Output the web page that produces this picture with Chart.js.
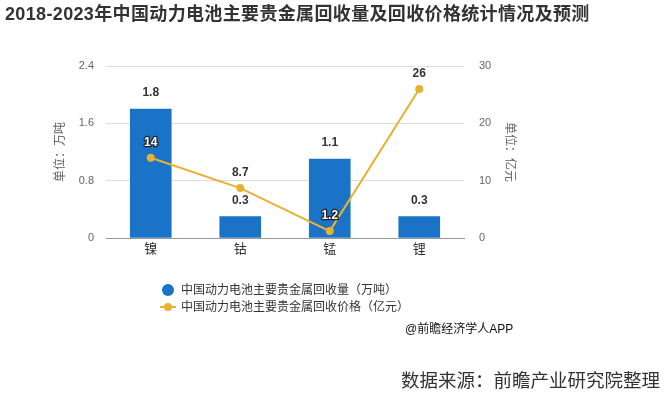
<!DOCTYPE html>
<html>
<head>
<meta charset="utf-8">
<script src="https://cdn.jsdelivr.net/npm/chart.js@4.4.1/dist/chart.umd.min.js"></script>
<style>
  html, body { margin: 0; padding: 0; background: #fff; }
  body { width: 664px; height: 393px; position: relative; overflow: hidden;
         font-family: "Liberation Sans", "Noto Sans CJK SC", sans-serif; }
  #wrap { position: absolute; left: 0; top: 0; width: 664px; height: 393px; }
  .txt { position: absolute; white-space: nowrap; color: #333; }
  #title { left: 5px; top: -1px; font-size: 18px; font-weight: bold; color: #333; letter-spacing: 0.35px; }
  .leg { left: 160px; font-size: 12px; line-height: 15px; color: #333; }
  .leg i { display: inline-block; vertical-align: middle; position: relative; width: 16px; height: 12px; margin-right: 5px; top: -1px; }
  .dot { position: absolute; left: 2px; top: 0; width: 12px; height: 12px; border-radius: 50%; background: #1a73c7; }
  .ln { position: absolute; left: 0; top: 5px; width: 16px; height: 2px; background: #e9b131; }
  .pt { position: absolute; left: 4px; top: 2px; width: 8px; height: 8px; border-radius: 50%; background: #e9b131; }
  #app { left: 405px; top: 319px; font-size: 12px; color: #111; }
  #src { left: 401px; top: 366px; font-size: 18.5px; color: #333; }
</style>
</head>
<body>
<div id="wrap"><canvas id="grafico" width="664" height="393"></canvas></div>
<div class="txt" id="title">2018-2023年中国动力电池主要贵金属回收量及回收价格统计情况及预测</div>
<div class="txt leg" style="top:283px"><i><span class="dot"></span></i>中国动力电池主要贵金属回收量（万吨）</div>
<div class="txt leg" style="top:300px"><i><span class="ln"></span><span class="pt"></span></i>中国动力电池主要贵金属回收价格（亿元）</div>
<div class="txt" id="app">@前瞻经济学人APP</div>
<div class="txt" id="src">数据来源：前瞻产业研究院整理</div>
<script>
// dados do gráfico
const categorias = ['镍', '钴', '锰', '锂'];
const volumeRecuperado = [1.8, 0.3, 1.1, 0.3];   // 万吨
const precoRecuperado = [14, 8.7, 1.2, 26];       // 亿元
const ticksEsquerda = [0, 0.8, 1.6, 2.4];
const ticksDireita = [0, 10, 20, 30];

const corBarra = '#1a73c7';
const corLinha = '#e9b131';
const fonteBase = '"Liberation Sans", "Noto Sans CJK SC", sans-serif';

// rótulos de dados desenhados sobre as barras e pontos
const pluginRotulos = {
    id: 'rotulos',
    afterDatasetsDraw(chart) {
        const ctx = chart.ctx;
        const barras = chart.getDatasetMeta(0).data;
        const pontos = chart.getDatasetMeta(1).data;
        ctx.save();
        ctx.font = 'bold 12px ' + fonteBase;
        ctx.textAlign = 'center';
        ctx.textBaseline = 'middle';
        ctx.lineJoin = 'round';

        barras.forEach((b, i) => {
            const y = b.y - 16;
            ctx.lineWidth = 3;
            ctx.strokeStyle = '#fff';
            ctx.strokeText(String(volumeRecuperado[i]), b.x, y);
            ctx.fillStyle = '#333';
            ctx.fillText(String(volumeRecuperado[i]), b.x, y);
        });

        pontos.forEach((p, i) => {
            const y = p.y - 15;
            const dentro = y > barras[i].y;
            const texto = String(precoRecuperado[i]);
            if (dentro) {
                ctx.lineWidth = 2.5;
                ctx.strokeStyle = '#222';
                ctx.strokeText(texto, p.x, y);
                ctx.fillStyle = '#fff';
            } else {
                ctx.lineWidth = 3;
                ctx.strokeStyle = '#fff';
                ctx.strokeText(texto, p.x, y);
                ctx.fillStyle = '#333';
            }
            ctx.fillText(texto, p.x, y);
        });
        ctx.restore();
    }
};

new Chart(document.getElementById('grafico').getContext('2d'), {
    type: 'bar',
    data: {
        labels: categorias,
        datasets: [{
            type: 'bar',
            label: '中国动力电池主要贵金属回收量（万吨）',
            data: volumeRecuperado,
            backgroundColor: corBarra,
            barThickness: 41,
            yAxisID: 'y',
            order: 2
        }, {
            type: 'line',
            label: '中国动力电池主要贵金属回收价格（亿元）',
            data: precoRecuperado,
            borderColor: corLinha,
            backgroundColor: corLinha,
            borderWidth: 2,
            pointRadius: 4,
            pointBackgroundColor: corLinha,
            pointBorderWidth: 0,
            yAxisID: 'y1',
            order: 1
        }]
    },
    options: {
        responsive: false,
        animation: false,
        layout: { padding: { left: 49, right: 143, top: 66, bottom: 125 } },
        plugins: {
            legend: { display: false },
            tooltip: { enabled: false }
        },
        scales: {
            x: {
                grid: { display: false, drawTicks: false },
                border: { color: '#999' },
                ticks: { color: '#333', font: { size: 13, family: fonteBase }, padding: 4 },
                afterFit: s => { s.height = 30; }
            },
            y: {
                position: 'left',
                min: 0, max: 2.4,
                afterBuildTicks: s => { s.ticks = ticksEsquerda.map(v => ({ value: v })); },
                grid: { color: '#dcdcdc', drawTicks: false },
                border: { display: false },
                ticks: { color: '#666', font: { size: 11, family: fonteBase }, padding: 12 },
                title: { display: true, text: '单位：万吨', color: '#666', font: { size: 12, family: fonteBase } },
                afterFit: s => { s.width = 57; }
            },
            y1: {
                position: 'right',
                min: 0, max: 30,
                afterBuildTicks: s => { s.ticks = ticksDireita.map(v => ({ value: v })); },
                grid: { display: false, drawTicks: false },
                border: { display: false },
                ticks: { color: '#666', font: { size: 11, family: fonteBase }, padding: 15 },
                title: { display: true, text: '单位：亿元', color: '#666', font: { size: 12, family: fonteBase } },
                afterFit: s => { s.width = 57; }
            }
        }
    },
    plugins: [pluginRotulos]
});
</script>
</body>
</html>
